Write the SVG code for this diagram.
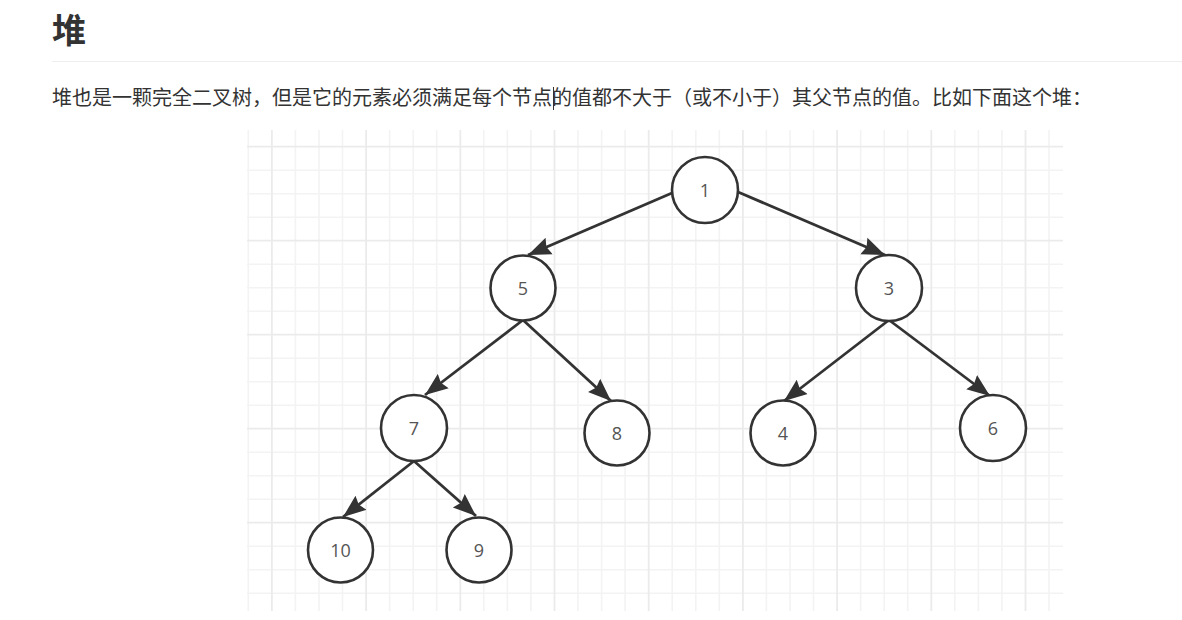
<svg xmlns="http://www.w3.org/2000/svg" width="1182" height="620" viewBox="0 0 1182 620">
<style>
.title{font-family:"Noto Sans CJK SC","Noto Sans CJK JP",sans-serif;font-weight:bold;font-size:34px;fill:#333}
.para{font-family:"Noto Sans CJK SC","Noto Sans CJK JP",sans-serif;font-size:20px;fill:#333}
.gmin{stroke:#f3f3f3;stroke-width:1.6;fill:none}
.gmaj{stroke:#ebebeb;stroke-width:1.8;fill:none}
.node circle{fill:#fff;stroke:#333;stroke-width:2.6}
.node text{font-family:"Open Sans","Liberation Sans",sans-serif;font-size:18px;fill:#555;text-anchor:middle;dominant-baseline:central}
.edge{stroke:#333;stroke-width:2.8;fill:none;marker-end:url(#arr)}
</style>
<defs>
<marker id="arr" markerUnits="userSpaceOnUse" markerWidth="24" markerHeight="20" refX="23" refY="10" orient="auto">
<path d="M0,1 L23,10 L0,19 L3,10 z" fill="#333"/>
</marker>
</defs>
<rect width="1182" height="620" fill="#fff"/>
<text class="title" x="52" y="43">堆</text>
<line x1="52" y1="61.5" x2="1182" y2="61.5" stroke="#eeeeee" stroke-width="1"/>
<text class="para" x="52" y="105">堆也是一颗完全二叉树，但是它的元素必须满足每个节点的值都不大于（或不小于）其父节点的值。比如下面这个堆：</text>
<line x1="553.5" y1="87" x2="553.5" y2="110" stroke="#333" stroke-width="1"/>
<g id="grid">
<path class="gmin" d="M248.3,130V611M295.4,130V611M319,130V611M342.5,130V611M389.6,130V611M413.2,130V611M436.7,130V611M483.8,130V611M507.4,130V611M530.9,130V611M578,130V611M601.6,130V611M625.1,130V611M672.2,130V611M695.8,130V611M719.3,130V611M766.4,130V611M790,130V611M813.5,130V611M860.6,130V611M884.2,130V611M907.7,130V611M954.8,130V611M978.4,130V611M1001.9,130V611M1049,130V611
M247,170.2H1063M247,193.7H1063M247,217.2H1063M247,264.2H1063M247,287.7H1063M247,311.2H1063M247,358.2H1063M247,381.7H1063M247,405.2H1063M247,452.2H1063M247,475.7H1063M247,499.2H1063M247,546.2H1063M247,569.7H1063M247,593.2H1063"/>
<path class="gmaj" d="M271.9,130V611M366.1,130V611M460.3,130V611M554.5,130V611M648.7,130V611M742.9,130V611M837.1,130V611M931.3,130V611M1025.5,130V611
M247,146.7H1063M247,240.7H1063M247,334.7H1063M247,428.7H1063M247,522.7H1063"/>
</g>
<g id="connectors">
<line class="edge" x1="672" y1="193" x2="528" y2="255"/>
<line class="edge" x1="738" y1="192" x2="885" y2="255"/>
<line class="edge" x1="523" y1="320" x2="425" y2="395"/>
<line class="edge" x1="523" y1="320" x2="611" y2="401"/>
<line class="edge" x1="889" y1="320" x2="784" y2="401"/>
<line class="edge" x1="889" y1="320" x2="990" y2="396"/>
<line class="edge" x1="414" y1="461" x2="343" y2="517"/>
<line class="edge" x1="414" y1="461" x2="476" y2="516"/>
</g>
<g id="n1" class="node"><circle cx="705" cy="190" r="33"/><text x="705" y="190">1</text></g>
<g id="n5" class="node"><circle cx="523" cy="288" r="32.5"/><text x="523" y="288">5</text></g>
<g id="n3" class="node"><circle cx="889" cy="288" r="33"/><text x="889" y="288">3</text></g>
<g id="n7" class="node"><circle cx="414" cy="428" r="33"/><text x="414" y="428">7</text></g>
<g id="n8" class="node"><circle cx="617" cy="433" r="32.5"/><text x="617" y="433">8</text></g>
<g id="n4" class="node"><circle cx="783" cy="433" r="32.5"/><text x="783" y="433">4</text></g>
<g id="n6" class="node"><circle cx="993" cy="428" r="33"/><text x="993" y="428">6</text></g>
<g id="n10" class="node"><circle cx="340.5" cy="550" r="32.5"/><text x="340.5" y="550">10</text></g>
<g id="n9" class="node"><circle cx="479" cy="550" r="32.5"/><text x="479" y="550">9</text></g>
</svg>
